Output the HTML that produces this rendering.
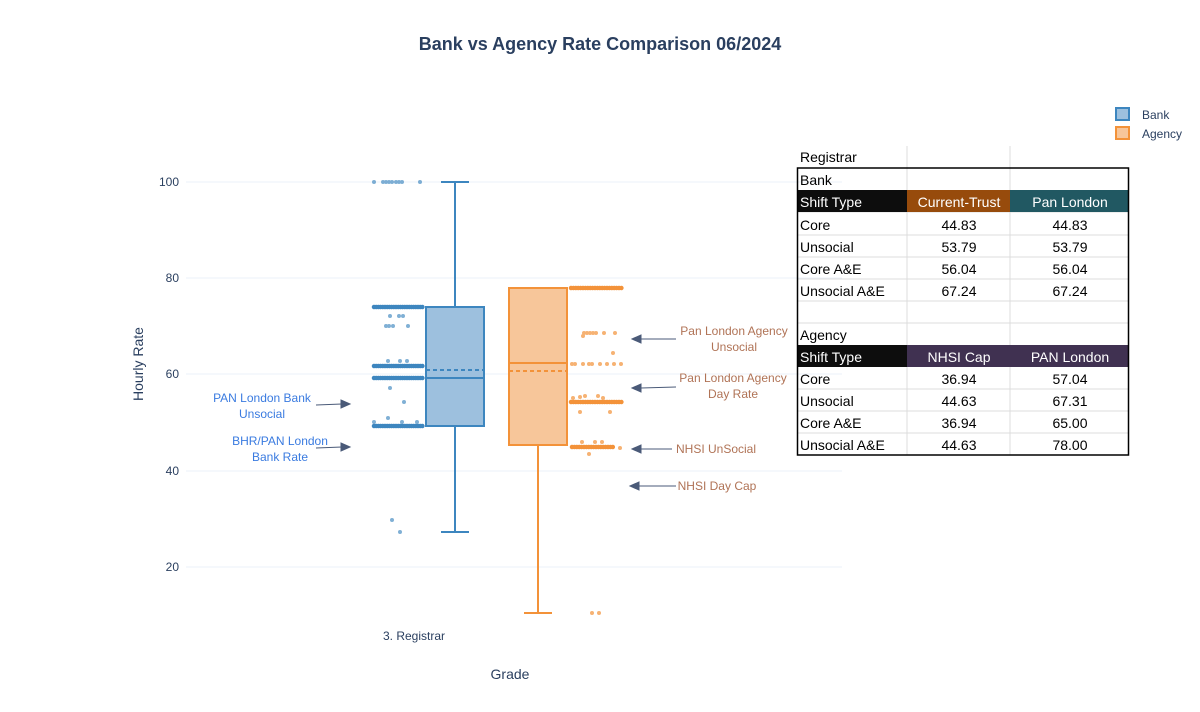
<!DOCTYPE html>
<html><head><meta charset="utf-8"><style>
body{margin:0;background:#fff;font-family:"Liberation Sans",sans-serif}
svg text{font-family:"Liberation Sans",sans-serif}
</style></head><body>
<svg width="1200" height="707" viewBox="0 0 1200 707" xmlns="http://www.w3.org/2000/svg">
<rect width="1200" height="707" fill="#fff"/>
<text x="600" y="50" text-anchor="middle" font-size="18" font-weight="bold" fill="#2a3f5f">Bank vs Agency Rate Comparison 06/2024</text>
<!-- grid -->
<g stroke="#ebf0f8" stroke-width="1">
<line x1="186" x2="842" y1="182" y2="182"/><line x1="186" x2="842" y1="278" y2="278"/>
<line x1="186" x2="842" y1="374" y2="374"/><line x1="186" x2="842" y1="471" y2="471"/>
<line x1="186" x2="842" y1="567" y2="567"/>
</g>
<g font-size="12" fill="#2a3f5f" text-anchor="end">
<text x="179" y="186">100</text><text x="179" y="282">80</text><text x="179" y="378">60</text>
<text x="179" y="475">40</text><text x="179" y="571">20</text>
</g>
<text x="143" y="364" font-size="14" fill="#2a3f5f" text-anchor="middle" transform="rotate(-90 143 364)">Hourly Rate</text>
<text x="414" y="640" font-size="12" fill="#2a3f5f" text-anchor="middle">3. Registrar</text>
<text x="510" y="679" font-size="14" fill="#2a3f5f" text-anchor="middle">Grade</text>
<!-- bank box -->
<g stroke="#3d86bf" stroke-width="2" fill="none">
<line x1="455" x2="455" y1="182" y2="307"/><line x1="455" x2="455" y1="426" y2="532"/>
<line x1="441" x2="469" y1="182" y2="182"/><line x1="441" x2="469" y1="532" y2="532"/>
<rect x="426" y="307" width="58" height="119" fill="#9dc0de"/>
<line x1="426" x2="484" y1="378" y2="378"/>
<line x1="426" x2="484" y1="370" y2="370" stroke-dasharray="4 3"/>
</g>
<!-- agency box -->
<g stroke="#f39239" stroke-width="2" fill="none">
<line x1="538" x2="538" y1="445" y2="613"/>
<line x1="524" x2="552" y1="613" y2="613"/>
<rect x="509" y="288" width="58" height="157" fill="#f7c69a"/>
<line x1="509" x2="567" y1="363" y2="363"/>
<line x1="509" x2="567" y1="371" y2="371" stroke-dasharray="4 3"/>
</g>
<!-- bank points -->
<g stroke="#3d86bf" stroke-linecap="round" stroke-width="4.5" stroke-dasharray="0 2.2">
<line x1="374" x2="424" y1="307" y2="307"/><line x1="374" x2="424" y1="366" y2="366"/>
<line x1="374" x2="424" y1="378" y2="378"/><line x1="374" x2="424" y1="426" y2="426"/>
</g>
<g fill="#3d86bf" opacity="0.65">
<circle cx="374" cy="182" r="2"/><circle cx="383" cy="182" r="2"/><circle cx="386" cy="182" r="2"/><circle cx="389" cy="182" r="2"/><circle cx="392" cy="182" r="2"/><circle cx="396" cy="182" r="2"/><circle cx="399" cy="182" r="2"/><circle cx="402" cy="182" r="2"/><circle cx="420" cy="182" r="2"/>
<circle cx="390" cy="316" r="2"/><circle cx="399" cy="316" r="2"/><circle cx="403" cy="316" r="2"/>
<circle cx="386" cy="326" r="2"/><circle cx="389" cy="326" r="2"/><circle cx="393" cy="326" r="2"/><circle cx="408" cy="326" r="2"/>
<circle cx="388" cy="361" r="2"/><circle cx="400" cy="361" r="2"/><circle cx="407" cy="361" r="2"/>
<circle cx="390" cy="388" r="2"/><circle cx="404" cy="402" r="2"/>
<circle cx="374" cy="422" r="2"/><circle cx="388" cy="418" r="2"/><circle cx="402" cy="422" r="2"/><circle cx="417" cy="422" r="2"/>
<circle cx="392" cy="520" r="2"/><circle cx="400" cy="532" r="2"/>
</g>
<!-- agency points -->
<g stroke="#f39239" stroke-linecap="round" stroke-width="4.5" stroke-dasharray="0 2.4">
<line x1="571" x2="622" y1="288" y2="288"/><line x1="571" x2="622" y1="402" y2="402"/>
<line x1="572" x2="614" y1="447" y2="447"/>
</g>
<g fill="#f39239" opacity="0.7">
<circle cx="584" cy="333" r="2"/><circle cx="587" cy="333" r="2"/><circle cx="590" cy="333" r="2"/><circle cx="593" cy="333" r="2"/><circle cx="596" cy="333" r="2"/><circle cx="604" cy="333" r="2"/><circle cx="615" cy="333" r="2"/><circle cx="583" cy="336" r="2"/>
<circle cx="613" cy="353" r="2"/>
<circle cx="572" cy="364" r="2"/><circle cx="575" cy="364" r="2"/><circle cx="583" cy="364" r="2"/><circle cx="589" cy="364" r="2"/><circle cx="592" cy="364" r="2"/><circle cx="600" cy="364" r="2"/><circle cx="607" cy="364" r="2"/><circle cx="614" cy="364" r="2"/><circle cx="621" cy="364" r="2"/>
<circle cx="573" cy="398" r="2"/><circle cx="580" cy="397" r="2"/><circle cx="585" cy="396" r="2"/><circle cx="598" cy="396" r="2"/><circle cx="603" cy="398" r="2"/>
<circle cx="580" cy="412" r="2"/><circle cx="610" cy="412" r="2"/>
<circle cx="582" cy="442" r="2"/><circle cx="595" cy="442" r="2"/><circle cx="602" cy="442" r="2"/><circle cx="589" cy="454" r="2"/><circle cx="620" cy="448" r="2"/>
<circle cx="592" cy="613" r="2"/><circle cx="599" cy="613" r="2"/>
</g>
<!-- annotations -->
<g font-size="12" fill="#3a7be0" text-anchor="middle">
<text x="262" y="402">PAN London Bank</text><text x="262" y="418">Unsocial</text>
<text x="280" y="445">BHR/PAN London</text><text x="280" y="461">Bank Rate</text>
</g>
<g font-size="12" fill="#b07356" text-anchor="middle">
<text x="734" y="335">Pan London Agency</text><text x="734" y="351">Unsocial</text>
<text x="733" y="382">Pan London Agency</text><text x="733" y="398">Day Rate</text>
<text x="716" y="453">NHSI UnSocial</text>
<text x="717" y="490">NHSI Day Cap</text>
</g>
<g stroke="#4a5a78" stroke-width="1" fill="#4a5a78">
<line x1="316" y1="405" x2="342" y2="404"/><polygon points="350,404 341,400 341,408"/>
<line x1="316" y1="448" x2="342" y2="447"/><polygon points="350,447 341,443 341,451"/>
<line x1="676" y1="339" x2="641" y2="339"/><polygon points="632,339 641,335 641,343"/>
<line x1="676" y1="387" x2="641" y2="388"/><polygon points="632,388 641,384 641,392"/>
<line x1="672" y1="449" x2="641" y2="449"/><polygon points="632,449 641,445 641,453"/>
<line x1="676" y1="486" x2="639" y2="486"/><polygon points="630,486 639,482 639,490"/>
</g>
<!-- legend -->
<rect x="1116" y="108" width="13" height="12" fill="#9dc0de" stroke="#3d86bf" stroke-width="2"/>
<rect x="1116" y="127" width="13" height="12" fill="#f7c69a" stroke="#f39239" stroke-width="2"/>
<text x="1142" y="119" font-size="12" fill="#2a3f5f">Bank</text>
<text x="1142" y="138" font-size="12" fill="#2a3f5f">Agency</text>
<!-- table -->
<g stroke="#dcdcdc" stroke-width="1">
<line x1="907" x2="907" y1="146" y2="455"/><line x1="1010" x2="1010" y1="146" y2="455"/>
<line x1="797" x2="1129" y1="235" y2="235"/><line x1="797" x2="1129" y1="257" y2="257"/>
<line x1="797" x2="1129" y1="279" y2="279"/><line x1="797" x2="1129" y1="301" y2="301"/>
<line x1="797" x2="1129" y1="323" y2="323"/><line x1="797" x2="1129" y1="389" y2="389"/>
<line x1="797" x2="1129" y1="411" y2="411"/><line x1="797" x2="1129" y1="433" y2="433"/>
<line x1="797" x2="1129" y1="212" y2="212"/>
</g>
<rect x="797" y="190" width="110" height="22" fill="#0d0d0d"/>
<rect x="907" y="190" width="103" height="22" fill="#974b0c"/>
<rect x="1010" y="190" width="119" height="22" fill="#215862"/>
<rect x="797" y="345" width="110" height="22" fill="#0d0d0d"/>
<rect x="907" y="345" width="222" height="22" fill="#403151"/>
<rect x="797.5" y="168" width="331" height="287" fill="none" stroke="#000" stroke-width="1.5"/>
<g font-size="14" fill="#000" font-family="'DejaVu Sans',sans-serif">
<text x="800" y="162">Registrar</text><text x="800" y="185">Bank</text>
<text x="800" y="207" fill="#fff">Shift Type</text>
<text x="800" y="230">Core</text><text x="800" y="252">Unsocial</text><text x="800" y="274">Core A&amp;E</text><text x="800" y="296">Unsocial A&amp;E</text>
<text x="800" y="340">Agency</text>
<text x="800" y="362" fill="#fff">Shift Type</text>
<text x="800" y="384">Core</text><text x="800" y="406">Unsocial</text><text x="800" y="428">Core A&amp;E</text><text x="800" y="450">Unsocial A&amp;E</text>
</g>
<g font-size="14" fill="#000" text-anchor="middle">
<text x="959" y="207" fill="#fff">Current-Trust</text><text x="1070" y="207" fill="#fff">Pan London</text>
<text x="959" y="230">44.83</text><text x="1070" y="230">44.83</text>
<text x="959" y="252">53.79</text><text x="1070" y="252">53.79</text>
<text x="959" y="274">56.04</text><text x="1070" y="274">56.04</text>
<text x="959" y="296">67.24</text><text x="1070" y="296">67.24</text>
<text x="959" y="362" fill="#fff">NHSI Cap</text><text x="1070" y="362" fill="#fff">PAN London</text>
<text x="959" y="384">36.94</text><text x="1070" y="384">57.04</text>
<text x="959" y="406">44.63</text><text x="1070" y="406">67.31</text>
<text x="959" y="428">36.94</text><text x="1070" y="428">65.00</text>
<text x="959" y="450">44.63</text><text x="1070" y="450">78.00</text>
</g>
</svg>
</body></html>
